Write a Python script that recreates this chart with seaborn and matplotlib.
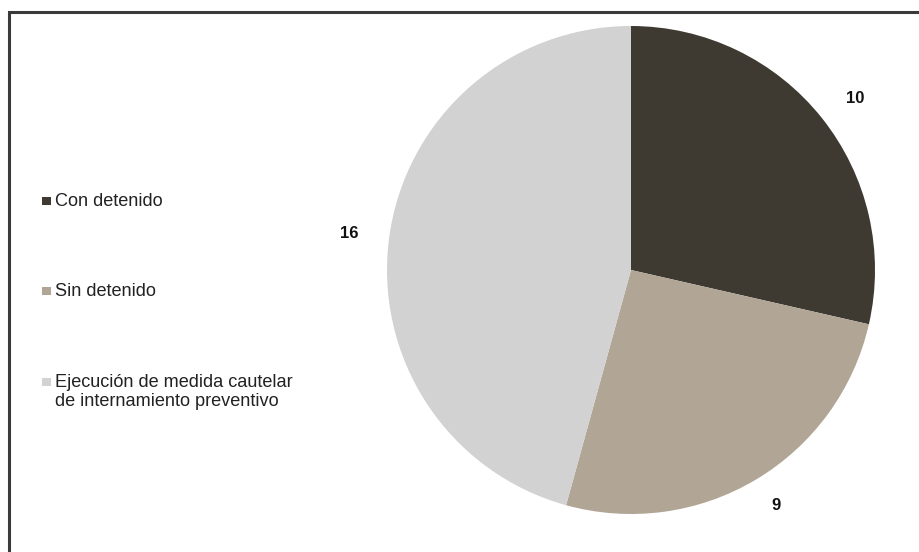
import matplotlib
matplotlib.use("Agg")
import matplotlib.pyplot as plt
import seaborn as sns
from matplotlib.patches import Rectangle

categories = ["Con detenido", "Sin detenido",
              "Ejecución de medida cautelar\nde internamiento preventivo"]
values = [10, 9, 16]
colors = ["#3e3a31", "#b1a696", "#d2d2d2"]

sns.set_theme(style="white")
plt.rcParams['font.family'] = ['Liberation Sans', 'DejaVu Sans']

W, H = 919, 552
fig = plt.figure(figsize=(W / 100, H / 100), dpi=100)

# border frame
fig.patches.append(Rectangle((9 / W, -0.05), 1.05, 1 - 12 / H + 0.05,
                             transform=fig.transFigure, fill=False,
                             edgecolor="#3a3a3a", linewidth=2.2))

cx, cy, r = 631, 270, 244
ax = fig.add_axes([(cx - r) / W, 1 - (cy + r) / H, 2 * r / W, 2 * r / H])
wedges, texts = ax.pie(values, colors=colors, startangle=90, counterclock=False,
                       labels=[str(v) for v in values], labeldistance=1.125,
                       wedgeprops=dict(linewidth=0, edgecolor="none"),
                       textprops=dict(fontsize=12, fontweight="bold", color="#111111"))
ax.set_aspect("equal")
ax.set_xlim(-1, 1)
ax.set_ylim(-1, 1)
ax.axis("off")

# legend drawn manually: square marker aligned with first line of each label
legend_baseline = [206, 296, 387]
line_h = 19
for lab, col, yb in zip(categories, colors, legend_baseline):
    fig.patches.append(Rectangle((42 / W, 1 - (yb - 1) / H), 8.5 / W, 8.5 / H,
                                 transform=fig.transFigure, facecolor=col,
                                 edgecolor="none"))
    for i, line in enumerate(lab.split("\n")):
        fig.text(55 / W, 1 - (yb + i * line_h) / H, line, ha="left",
                 va="baseline", fontsize=13.1, color="#222222")

fig.savefig("out.png", dpi=100, facecolor="white")
